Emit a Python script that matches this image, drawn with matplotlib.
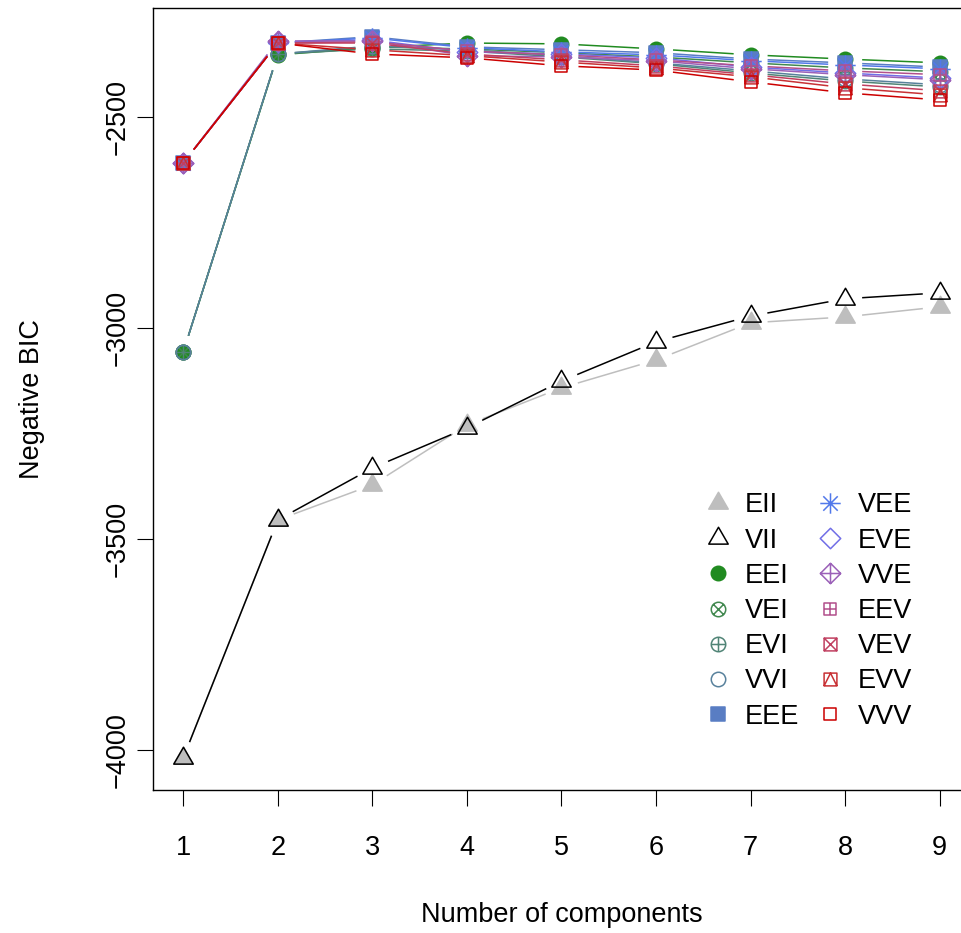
#!/usr/bin/env python3
"""BIC curves for Gaussian mixture models, 1 to 9 components."""

import matplotlib
matplotlib.use("Agg")
import matplotlib.pyplot as plt
import numpy as np
from matplotlib.lines import Line2D
from matplotlib.path import Path

plt.rcParams["font.family"] = ["Liberation Sans", "DejaVu Sans"]

components = [1, 2, 3, 4, 5, 6, 7, 8, 9]
models = ["EII", "VII", "EEI", "VEI", "EVI", "VVI", "EEE",
          "VEE", "EVE", "VVE", "EEV", "VEV", "EVV", "VVV"]

# BIC per model, one value per number of components
bic_eii = [-4019, -3455, -3372, -3230, -3142, -3076, -2988, -2974, -2950]
bic_vii = [-4019, -3455, -3332, -3237, -3126, -3033, -2972, -2931, -2917]
bic_eei = [-3057, -2353, -2336, -2325, -2327, -2339, -2353, -2363, -2372]
bic_vei = [-3057, -2351, -2334, -2339, -2348, -2358, -2372, -2384, -2393]
bic_evi = [-3057, -2351, -2339, -2344, -2358, -2374, -2396, -2415, -2429]
bic_vvi = [-3057, -2351, -2332, -2341, -2355, -2372, -2391, -2410, -2424]
bic_eee = [-2609, -2325, -2310, -2334, -2341, -2348, -2363, -2372, -2382]
bic_vee = [-2609, -2325, -2313, -2336, -2346, -2353, -2367, -2377, -2386]
bic_eve = [-2609, -2322, -2318, -2346, -2351, -2360, -2382, -2396, -2408]
bic_vve = [-2609, -2320, -2320, -2355, -2358, -2367, -2386, -2400, -2412]
bic_eev = [-2609, -2325, -2322, -2344, -2353, -2365, -2379, -2391, -2400]
bic_vev = [-2609, -2325, -2325, -2351, -2365, -2379, -2400, -2422, -2438]
bic_evv = [-2609, -2325, -2341, -2355, -2370, -2384, -2405, -2431, -2448]
bic_vvv = [-2609, -2325, -2351, -2360, -2379, -2389, -2417, -2443, -2460]

bic_values = [bic_eii, bic_vii, bic_eei, bic_vei, bic_evi, bic_vvi, bic_eee,
              bic_vee, bic_eve, bic_vve, bic_eev, bic_vev, bic_evv, bic_vvv]

colors = ["#BEBEBE", "#000000", "#218B21", "#41884F", "#508476", "#58819C",
          "#597DC3", "#5178EA", "#716EE7", "#9B60B8", "#B2508B", "#C03F60",
          "#C83135", "#CC0000"]
symbols = [17, 2, 16, 13, 10, 1, 15, 8, 5, 9, 12, 7, 14, 0]

y_ticks = [-4000, -3500, -3000, -2500]


# ---- R-style plotting symbols as marker paths (units of symbol radius) ----
def seg(p, q):
    return Path([p, q], [Path.MOVETO, Path.LINETO])


def poly(pts):
    pts = list(pts)
    return Path(pts + [pts[0]],
                [Path.MOVETO] + [Path.LINETO] * (len(pts) - 1) + [Path.CLOSEPOLY])


def square(s):
    return poly([(-s, -s), (s, -s), (s, s), (-s, s)])


def diamond(d):
    return poly([(0, d), (d, 0), (0, -d), (-d, 0)])


SQ = 0.886
DM = 1.414
TRI = [(0, 1.555), (1.347, -0.778), (-1.347, -0.778)]
C45 = 0.7071
circle = Path.unit_circle()
compound = Path.make_compound_path

pch_shapes = {
    0: (square(SQ), False),
    1: (circle, False),
    2: (poly(TRI), False),
    5: (diamond(DM), False),
    7: (compound(square(SQ), seg((-SQ, -SQ), (SQ, SQ)), seg((-SQ, SQ), (SQ, -SQ))), False),
    8: (compound(seg((-DM, 0), (DM, 0)), seg((0, -DM), (0, DM)),
                 seg((-1, -1), (1, 1)), seg((-1, 1), (1, -1))), False),
    9: (compound(diamond(DM), seg((-DM, 0), (DM, 0)), seg((0, -DM), (0, DM))), False),
    10: (compound(circle, seg((-1, 0), (1, 0)), seg((0, -1), (0, 1))), False),
    12: (compound(square(SQ), seg((-SQ, 0), (SQ, 0)), seg((0, -SQ), (0, SQ))), False),
    13: (compound(circle, seg((-C45, -C45), (C45, C45)), seg((-C45, C45), (C45, -C45))), False),
    14: (compound(square(SQ), Path([(-SQ, -SQ), (0, SQ), (SQ, -SQ)],
                                   [Path.MOVETO, Path.LINETO, Path.LINETO])), False),
    15: (square(0.95), True),
    16: (circle, True),
    17: (poly(TRI), True),
}

RADIUS_PT = 5.2
EDGE_W = 1.1
LINE_W = 1.1
GAP_PX = 17.0


def marker_kw(pch, color):
    path, filled = pch_shapes[pch]
    extent = np.max(np.abs(path.vertices))
    return dict(marker=path, markersize=2 * extent * RADIUS_PT,
                markeredgecolor=color, markeredgewidth=EDGE_W,
                markerfacecolor=color if filled else "none")


def gapped_line(ax, xs, ys, **kw):
    """Join consecutive points, leaving a gap round each symbol."""
    pts = ax.transData.transform(np.column_stack([xs, ys]))
    inv = ax.transData.inverted()
    for p0, p1 in zip(pts[:-1], pts[1:]):
        d = p1 - p0
        length = np.hypot(*d)
        if length <= 2 * GAP_PX:
            continue
        u = d / length
        a, b = inv.transform([p0 + u * GAP_PX, p1 - u * GAP_PX])
        ax.plot([a[0], b[0]], [a[1], b[1]], **kw)


W, H = 962, 933
fig = plt.figure(figsize=(W / 100, H / 100), dpi=100)
ax_left, ax_right, ax_top, ax_bottom = 153, 970, 8, 790
ax = fig.add_axes([ax_left / W, 1 - ax_bottom / H,
                   (ax_right - ax_left) / W, (ax_bottom - ax_top) / H])

ax.set_xlim(0.68, 9.32)
ax.set_ylim(-4095, -2242)

for i, (name, vals) in enumerate(zip(models, bic_values)):
    col = colors[i]
    gapped_line(ax, components, vals, color=col, lw=LINE_W, zorder=2 + i,
                solid_capstyle="butt")
    ax.plot(components, vals, ls="none", zorder=2.5 + i, **marker_kw(symbols[i], col))

FS = 19.5
ax.set_xticks(components)
ax.set_yticks(y_ticks)
ax.tick_params(axis="both", direction="out", length=11.5, width=0.8,
               labelsize=FS, color="black")
ax.tick_params(axis="x", pad=21)
ax.tick_params(axis="y", pad=4.5, labelrotation=90)
for lbl in ax.get_yticklabels():
    lbl.set_va("center")

for sp in ax.spines.values():
    sp.set_linewidth(1.0)

ax.set_xlabel("Number of components", fontsize=FS)
ax.set_ylabel("Negative BIC", fontsize=FS)
ax.xaxis.set_label_coords(0.5, (ax_bottom - 902) / (ax_bottom - ax_top))
ax.yaxis.set_label_coords((45 - ax_left) / (ax_right - ax_left), 0.5)

handles = [Line2D([], [], ls="none", **marker_kw(symbols[i], colors[i]))
           for i in range(len(models))]
ax.legend(handles, models, ncol=2, frameon=False, fontsize=FS,
          loc="center", bbox_to_anchor=(808 / W, 1 - 611 / H),
          bbox_transform=fig.transFigure, borderpad=0, borderaxespad=0,
          handlelength=1.0, handletextpad=0.5, columnspacing=0.65,
          labelspacing=0.34)

fig.savefig("out.png", dpi=100)
